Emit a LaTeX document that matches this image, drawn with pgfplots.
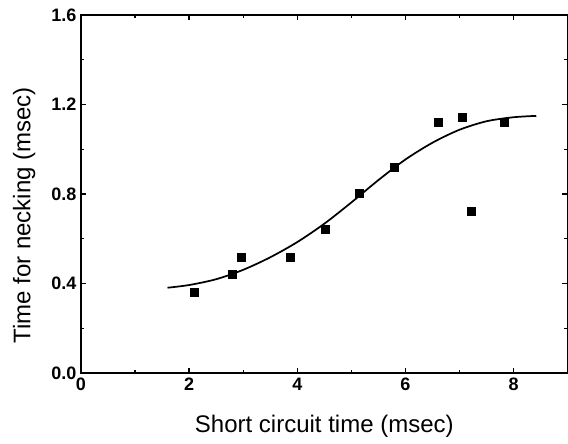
\documentclass[border=0pt]{standalone}
\usepackage{fontspec}
\setmainfont{Liberation Sans}
\usepackage{pgfplots}
\pgfplotsset{compat=1.18}
\usetikzlibrary{calc}

\begin{document}
\begin{tikzpicture}
\begin{axis}[
  scale only axis,
  width=365pt, height=268.5pt,
  xmin=0, xmax=9, ymin=0, ymax=1.6,
  xtick={0,2,4,6,8}, ytick={0,0.4,0.8,1.2,1.6},
  minor tick num=1,
  tick align=inside,
  major tick length=4pt, minor tick length=2.5pt,
  axis line style={line width=1.2pt},
  every tick/.style={line width=1pt, black},
  /pgf/number format/assume math mode=true,
  yticklabel style={/pgf/number format/.cd, fixed, fixed zerofill, precision=1},
  xticklabel style={/pgf/number format/.cd, fixed, precision=0},
  tick label style={font=\bfseries\fontsize{13.5}{16}\selectfont},
  label style={font=\fontsize{18}{21}\selectfont},
  xlabel={Short circuit time (msec)},
  ylabel={Time for necking (msec)},
  xlabel style={at={(axis description cs:0.5,-0.148)}, anchor=center},
  ylabel style={at={(axis description cs:-0.117,0.44)}, anchor=center},
]
% measured points
\addplot[only marks, mark=square*, mark size=3pt, black] coordinates {
  (2.09,0.362) (2.79,0.442) (2.97,0.518) (3.87,0.518) (4.51,0.644)
  (5.14,0.804) (5.80,0.921) (6.61,1.122) (7.05,1.144) (7.21,0.724)
  (7.82,1.122)
};
% fitted curve
\addplot[black, line width=1.3pt, smooth, mark=none] coordinates {
  (1.60,0.381) (2.0,0.393) (2.5,0.419) (3.0,0.461) (3.5,0.517)
  (4.0,0.585) (4.5,0.667) (5.0,0.762) (5.5,0.862) (6.0,0.954)
  (6.5,1.029) (7.0,1.087) (7.5,1.125) (8.0,1.143) (8.42,1.149)
};
\end{axis}
\pgfresetboundingbox
\useasboundingbox ($(current axis.south west)+(-60.75pt,-53.25pt)$) rectangle ($(current axis.north east)+(0.3pt,11.25pt)$);
\end{tikzpicture}
\end{document}
